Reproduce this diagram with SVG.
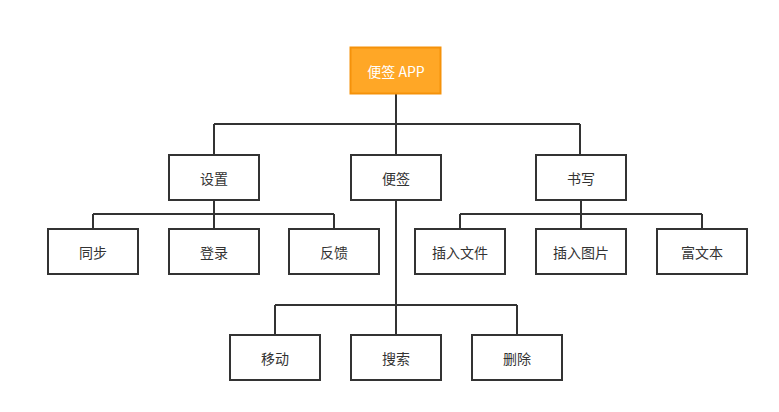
<svg xmlns="http://www.w3.org/2000/svg" width="779" height="412" viewBox="0 0 779 412">
<style>
.n{fill:#fff;stroke:#333;stroke-width:2}
.t{font-family:"Noto Sans CJK SC","Liberation Sans",sans-serif;font-size:14px;fill:#333;text-anchor:middle;dominant-baseline:central}
.c{fill:none;stroke:#333;stroke-width:2}
</style>
<rect width="779" height="412" fill="#fff"/>
<g id="connectors">
<path class="c" d="M396 93V124M214 124H580M214 124V155M396 124V155M580 124V155"/>
<path class="c" d="M214 200V229M93 214H334M93 214V229M334 214V229"/>
<path class="c" d="M581 200V229M460 214H702M460 214V229M702 214V229"/>
<path class="c" d="M396 200V335M275 305H517M275 305V335M517 305V335"/>
</g>
<g id="root"><rect x="350.5" y="47.5" width="90" height="46" fill="#ffa726" stroke="#f5920a" stroke-width="2"/><text class="t" x="396" y="70.5" fill="#fff" style="fill:#fff">便签 APP</text></g>
<g id="shezhi"><rect class="n" x="169" y="155" width="90" height="45"/><text class="t" x="214" y="177.5">设置</text></g>
<g id="bianqian"><rect class="n" x="351" y="155" width="90" height="45"/><text class="t" x="396" y="177.5">便签</text></g>
<g id="shuxie"><rect class="n" x="536" y="155" width="90" height="45"/><text class="t" x="581" y="177.5">书写</text></g>
<g id="tongbu"><rect class="n" x="48" y="229" width="90" height="45"/><text class="t" x="93" y="251.5">同步</text></g>
<g id="denglu"><rect class="n" x="169" y="229" width="90" height="45"/><text class="t" x="214" y="251.5">登录</text></g>
<g id="fankui"><rect class="n" x="289" y="229" width="90" height="45"/><text class="t" x="334" y="251.5">反馈</text></g>
<g id="charuwenjian"><rect class="n" x="415" y="229" width="90" height="45"/><text class="t" x="460" y="251.5">插入文件</text></g>
<g id="charutupian"><rect class="n" x="536" y="229" width="90" height="45"/><text class="t" x="581" y="251.5">插入图片</text></g>
<g id="fuwenben"><rect class="n" x="657" y="229" width="90" height="45"/><text class="t" x="702" y="251.5">富文本</text></g>
<g id="yidong"><rect class="n" x="230" y="335" width="90" height="45"/><text class="t" x="275" y="357.5">移动</text></g>
<g id="sousuo"><rect class="n" x="351" y="335" width="90" height="45"/><text class="t" x="396" y="357.5">搜索</text></g>
<g id="shanchu"><rect class="n" x="472" y="335" width="90" height="45"/><text class="t" x="517" y="357.5">删除</text></g>
</svg>
